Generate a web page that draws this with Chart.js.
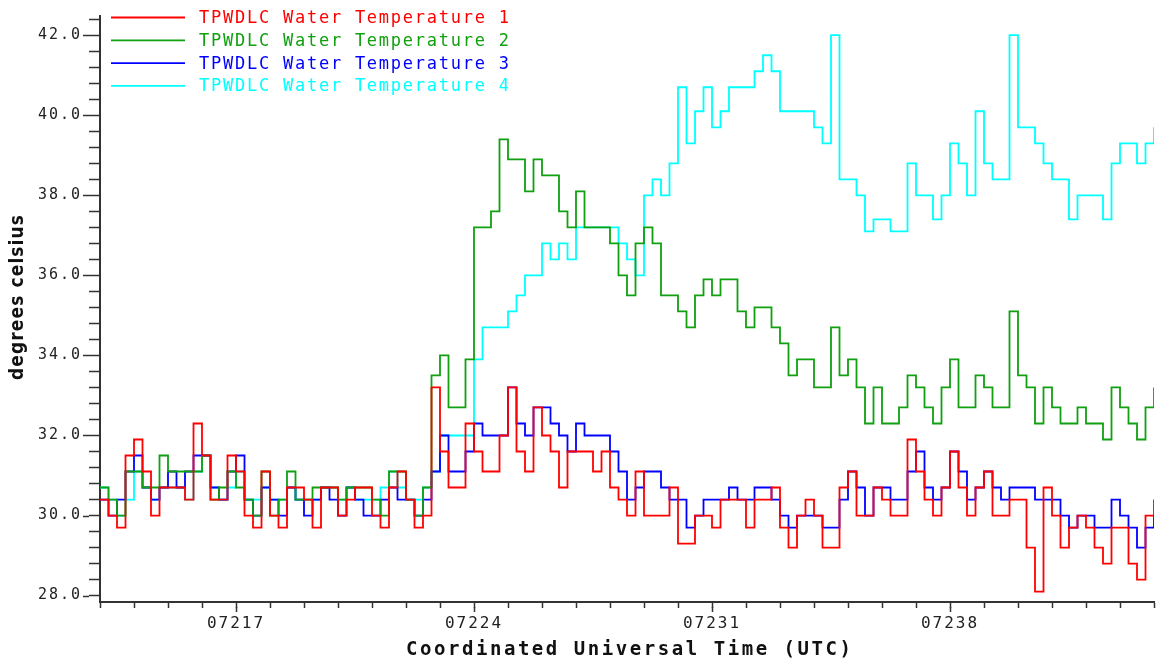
<!DOCTYPE html>
<html>
<head>
<meta charset="utf-8">
<title>TPWDLC Water Temperature</title>
<script src="https://cdn.jsdelivr.net/npm/chart.js@4.4.0/dist/chart.umd.min.js"></script>
<style>
  html, body { margin: 0; padding: 0; background: #fff; }
  canvas { display: block; }
</style>
</head>
<body>
<canvas id="grafico" width="1160" height="664"></canvas>
<script>
// ===================================================
// DATA - one reading every quarter step of the UTC axis
// ===================================================

const seriesNames = [
    'TPWDLC Water Temperature 1',
    'TPWDLC Water Temperature 2',
    'TPWDLC Water Temperature 3',
    'TPWDLC Water Temperature 4'
];
const seriesColors = ['#ff0000', '#10a010', '#0000ff', '#00ffff'];

const sampleStart = 7213;
const sampleStep = 0.25;

const temp1 = [
    30.4, 30.0, 29.7, 31.5, 31.9, 31.1, 30.0, 30.7, 30.7, 30.7,
    30.4, 32.3, 31.5, 30.4, 30.4, 31.5, 31.1, 30.0, 29.7, 31.1,
    30.0, 29.7, 30.7, 30.7, 30.4, 29.7, 30.7, 30.7, 30.0, 30.4,
    30.7, 30.7, 30.0, 29.7, 30.7, 31.1, 30.4, 29.7, 30.0, 33.2,
    31.6, 30.7, 30.7, 32.3, 31.6, 31.1, 31.1, 32.0, 33.2, 31.6,
    31.1, 32.7, 32.0, 31.6, 30.7, 31.6, 31.6, 31.6, 31.1, 31.6,
    30.7, 30.4, 30.0, 31.1, 30.0, 30.0, 30.0, 30.7, 29.3, 29.3,
    30.0, 30.0, 29.7, 30.4, 30.4, 30.4, 29.7, 30.4, 30.4, 30.7,
    29.7, 29.2, 30.0, 30.4, 30.0, 29.2, 29.2, 30.7, 31.1, 30.0,
    30.0, 30.7, 30.4, 30.0, 30.0, 31.9, 31.1, 30.4, 30.0, 30.7,
    31.6, 30.7, 30.0, 30.7, 31.1, 30.0, 30.0, 30.4, 30.4, 29.2,
    28.1, 30.7, 30.0, 29.2, 29.7, 30.0, 29.7, 29.2, 28.8, 29.7,
    29.7, 28.8, 28.4, 30.0, 30.4
];

const temp2 = [
    30.7, 30.4, 30.0, 31.1, 31.1, 30.7, 30.7, 31.5, 31.1, 31.1,
    31.1, 31.1, 31.5, 30.4, 30.7, 31.1, 30.7, 30.4, 30.0, 31.1,
    30.0, 30.4, 31.1, 30.4, 30.4, 30.7, 30.7, 30.7, 30.4, 30.7,
    30.7, 30.7, 30.4, 30.0, 31.1, 31.1, 30.4, 30.0, 30.7, 33.5,
    34.0, 32.7, 32.7, 33.9, 37.2, 37.2, 37.6, 39.4, 38.9, 38.9,
    38.1, 38.9, 38.5, 38.5, 37.6, 37.2, 38.1, 37.2, 37.2, 37.2,
    36.8, 36.0, 35.5, 36.8, 37.2, 36.8, 35.5, 35.5, 35.1, 34.7,
    35.5, 35.9, 35.5, 35.9, 35.9, 35.1, 34.7, 35.2, 35.2, 34.7,
    34.3, 33.5, 33.9, 33.9, 33.2, 33.2, 34.7, 33.5, 33.9, 33.2,
    32.3, 33.2, 32.3, 32.3, 32.7, 33.5, 33.2, 32.7, 32.3, 33.2,
    33.9, 32.7, 32.7, 33.5, 33.2, 32.7, 32.7, 35.1, 33.5, 33.2,
    32.3, 33.2, 32.7, 32.3, 32.3, 32.7, 32.3, 32.3, 31.9, 33.2,
    32.7, 32.3, 31.9, 32.7, 33.2
];

const temp3 = [
    30.4, 30.0, 30.4, 31.1, 31.5, 30.7, 30.4, 30.7, 31.1, 30.7,
    31.1, 31.5, 31.5, 30.7, 30.4, 31.1, 31.5, 30.4, 30.0, 30.7,
    30.4, 30.0, 30.7, 30.4, 30.0, 30.4, 30.7, 30.4, 30.0, 30.7,
    30.4, 30.0, 30.0, 30.4, 30.7, 30.4, 30.4, 30.0, 30.4, 31.1,
    32.0, 31.1, 31.1, 31.6, 32.3, 32.0, 32.0, 32.0, 33.2, 32.3,
    32.0, 32.7, 32.7, 32.3, 32.0, 31.6, 32.3, 32.0, 32.0, 32.0,
    31.6, 31.1, 30.4, 30.7, 31.1, 31.1, 30.7, 30.4, 30.4, 29.7,
    30.0, 30.4, 30.4, 30.4, 30.7, 30.4, 30.4, 30.7, 30.7, 30.4,
    30.0, 29.7, 30.0, 30.0, 30.0, 29.7, 29.7, 30.4, 31.1, 30.7,
    30.0, 30.7, 30.7, 30.4, 30.4, 31.1, 31.6, 30.7, 30.4, 30.7,
    31.6, 31.1, 30.4, 30.7, 31.1, 30.7, 30.4, 30.7, 30.7, 30.7,
    30.4, 30.4, 30.4, 30.0, 29.7, 30.0, 30.0, 29.7, 29.7, 30.4,
    30.0, 29.7, 29.2, 29.7, 30.0
];

const temp4 = [
    30.7, 30.4, 30.0, 30.4, 31.1, 30.7, 30.4, 30.7, 30.7, 30.7,
    30.4, 31.1, 31.5, 30.7, 30.4, 30.7, 31.1, 30.4, 30.4, 30.7,
    30.4, 30.4, 30.7, 30.4, 30.4, 30.4, 30.7, 30.7, 30.4, 30.7,
    30.4, 30.4, 30.4, 30.7, 31.1, 30.7, 30.4, 30.4, 30.7, 31.1,
    32.0, 32.0, 32.0, 32.0, 33.9, 34.7, 34.7, 34.7, 35.1, 35.5,
    36.0, 36.0, 36.8, 36.4, 36.8, 36.4, 37.2, 37.2, 37.2, 37.2,
    37.2, 36.8, 36.4, 36.0, 38.0, 38.4, 38.0, 38.8, 40.7, 39.3,
    40.1, 40.7, 39.7, 40.1, 40.7, 40.7, 40.7, 41.1, 41.5, 41.1,
    40.1, 40.1, 40.1, 40.1, 39.7, 39.3, 42.0, 38.4, 38.4, 38.0,
    37.1, 37.4, 37.4, 37.1, 37.1, 38.8, 38.0, 38.0, 37.4, 38.0,
    39.3, 38.8, 38.0, 40.1, 38.8, 38.4, 38.4, 42.0, 39.7, 39.7,
    39.3, 38.8, 38.4, 38.4, 37.4, 38.0, 38.0, 38.0, 37.4, 38.8,
    39.3, 39.3, 38.8, 39.3, 39.7
];

const seriesValues = [temp1, temp2, temp3, temp4];

const xTickLabels = ['07217', '07224', '07231', '07238'];
const yTickLabels = ['28.0', '30.0', '32.0', '34.0', '36.0', '38.0', '40.0', '42.0'];

// ===================================================
// AXIS TICKS (one mark per minute / every 0.4 degree)
// ===================================================

const sampleTimes = temp1.map((_, i) => sampleStart + i * sampleStep);

const xTickValues = [];
for (let t = 7213; t <= 7244; t++) xTickValues.push(t);

const yTickValues = [];
for (let k = 0; k <= 36; k++) yTickValues.push(Math.round((28 + 0.4 * k) * 10) / 10);

function yLabel(value) {
    return yTickLabels.find(l => Math.abs(Number(l) - value) < 0.001) || '';
}

function xLabel(value) {
    return xTickLabels.find(l => Number(l) === value) || '';
}

// stretches a string over a given width using letter spacing
function spacedText(ctx, text, x, y, width) {
    ctx.letterSpacing = '0px';
    const natural = ctx.measureText(text).width;
    ctx.letterSpacing = ((width - natural) / (text.length - 1)) + 'px';
    ctx.fillText(text, x, y);
}

// ===================================================
// TEXT, LEGEND AND LONG TICKS
// ===================================================

const decorPlugin = {
    id: 'decor',
    beforeDraw(chart) {
        chart.ctx.letterSpacing = '2px';
    },
    afterDraw(chart) {
        const ctx = chart.ctx;
        const xs = chart.scales.x;
        const ys = chart.scales.y;
        ctx.save();

        // labelled ticks are a bit longer
        ctx.strokeStyle = '#333';
        ctx.lineWidth = 1.5;
        ctx.beginPath();
        yTickLabels.forEach(l => {
            const py = Math.round(ys.getPixelForValue(Number(l))) + 0.5;
            ctx.moveTo(ys.right - 17, py);
            ctx.lineTo(ys.right - 11, py);
        });
        xTickLabels.forEach(l => {
            const px = Math.round(xs.getPixelForValue(Number(l))) + 0.5;
            ctx.moveTo(px, xs.top + 5);
            ctx.lineTo(px, xs.top + 10);
        });
        ctx.stroke();

        // legend in the top left corner of the plot
        ctx.textAlign = 'left';
        ctx.textBaseline = 'middle';
        ctx.font = '17px "DejaVu Sans Mono"';
        seriesNames.forEach((name, i) => {
            const y = 17.5 + i * 22.8;
            ctx.strokeStyle = seriesColors[i];
            ctx.lineWidth = 1.8;
            ctx.beginPath();
            ctx.moveTo(111, y);
            ctx.lineTo(185, y);
            ctx.stroke();
            ctx.fillStyle = seriesColors[i];
            spacedText(ctx, name, 199, y + 1, 310);
        });

        // axis titles
        ctx.fillStyle = '#111';
        ctx.font = 'bold 19px "DejaVu Sans Mono"';
        spacedText(ctx, 'Coordinated Universal Time (UTC)', 406, 650, 445);

        ctx.translate(18, 380);
        ctx.rotate(-Math.PI / 2);
        ctx.font = 'bold 19px "DejaVu Sans Condensed"';
        spacedText(ctx, 'degrees celsius', 0, 0, 165);

        ctx.restore();
    }
};

// ===================================================
// CHART
// ===================================================

const datasets = seriesValues.map((values, i) => ({
    label: seriesNames[i],
    data: values.map((v, j) => ({ x: sampleTimes[j], y: v })),
    borderColor: seriesColors[i],
    backgroundColor: seriesColors[i],
    borderWidth: 1.8,
    pointRadius: 0,
    stepped: true,
    fill: false
}));

new Chart(document.getElementById('grafico'), {
    type: 'line',
    data: { datasets },
    options: {
        responsive: false,
        animation: false,
        devicePixelRatio: 1,
        layout: { padding: { top: 12, right: 0, bottom: 0, left: 0 } },
        plugins: {
            legend: { display: false },
            tooltip: { enabled: false }
        },
        scales: {
            x: {
                type: 'linear',
                min: 7213,
                max: 7244,
                afterBuildTicks: s => { s.ticks = xTickValues.map(v => ({ value: v })); },
                afterFit: s => { s.height = 62; },
                border: { color: '#333', width: 2 },
                grid: { drawOnChartArea: false, tickLength: 6, tickColor: '#333', tickWidth: 1.5 },
                ticks: {
                    autoSkip: false,
                    maxRotation: 0,
                    padding: 6,
                    color: '#222',
                    font: { family: 'DejaVu Sans Mono', size: 16 },
                    callback: v => xLabel(v)
                }
            },
            y: {
                type: 'linear',
                min: 27.84,
                max: 42.48,
                afterBuildTicks: s => { s.ticks = yTickValues.map(v => ({ value: v })); },
                afterFit: s => { s.width = 100; },
                border: { color: '#333', width: 2 },
                grid: { drawOnChartArea: false, tickLength: 11, tickColor: '#333', tickWidth: 1.5 },
                ticks: {
                    autoSkip: false,
                    padding: 7,
                    color: '#222',
                    font: { family: 'DejaVu Sans Mono', size: 15 },
                    callback: v => yLabel(v)
                }
            }
        }
    },
    plugins: [decorPlugin]
});
</script>
</body>
</html>
